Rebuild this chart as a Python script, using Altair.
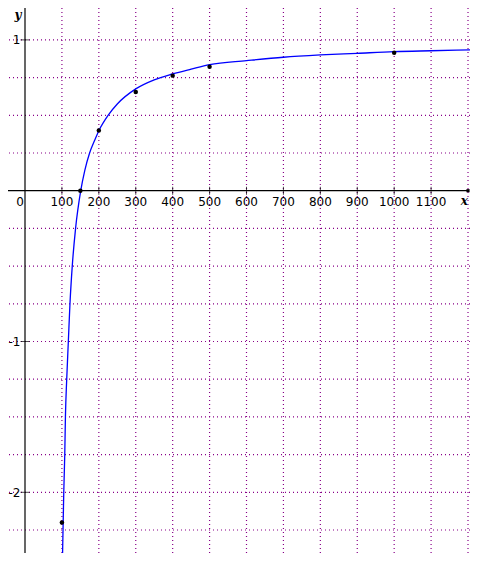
import altair as alt
import pandas as pd

# ---- data ----
curve_x = [101.0, 103, 105, 107.7, 109.5, 113, 117.4, 121.8, 128, 137, 151, 162, 175, 189, 200,
           225, 250, 300, 350, 400, 450, 500, 600, 700, 800, 900, 1000, 1100, 1212]
curve_y = [-2.50, -2.25, -2.0, -1.75, -1.5, -1.25, -1.0, -0.75, -0.5, -0.25, 0.0, 0.135, 0.25, 0.336, 0.398,
           0.50, 0.575, 0.675, 0.735, 0.774, 0.806, 0.836, 0.862, 0.885, 0.900, 0.911, 0.922, 0.928, 0.934]

pts_x = [100, 150, 200, 300, 400, 500, 1000]
pts_y = [-2.2, 0.0, 0.4, 0.655, 0.763, 0.822, 0.915]

grid_x = [100, 200, 300, 400, 500, 600, 700, 800, 900, 1000, 1100, 1200]
grid_y = [-2.25, -2.0, -1.75, -1.5, -1.25, -1.0, -0.75, -0.5, -0.25, 0.25, 0.5, 0.75, 1.0]

xtick_vals = [100, 200, 300, 400, 500, 600, 700, 800, 900, 1000, 1100]
xtick_labels = ["100", "200", "300", "400", "500", "600", "700", "800", "900", "1000", "1100"]
ytick_vals = [1, -1, -2]
ytick_labels = ["1", "-1", "-2"]

X_DOMAIN = [-46.05, 1205.4]
Y_DOMAIN = [-2.4025, 1.2115]
AXIS_END_X = 1200

xs = alt.Scale(domain=X_DOMAIN, nice=False, zero=False)
ys = alt.Scale(domain=Y_DOMAIN, nice=False, zero=False)

GRID_COLOR = "#880088"
FONT = "DejaVu Sans"


def X(field="x"):
    return alt.X(f"{field}:Q", scale=xs, axis=None)


def Y(field="y"):
    return alt.Y(f"{field}:Q", scale=ys, axis=None)


vgrid = alt.Chart(pd.DataFrame({"x": grid_x})).mark_rule(
    color=GRID_COLOR, strokeWidth=1.2, strokeDash=[1, 3]
).encode(x=X())

hgrid = alt.Chart(pd.DataFrame({"y": grid_y})).mark_rule(
    color=GRID_COLOR, strokeWidth=1.2, strokeDash=[1, 3]
).encode(y=Y())

xaxis = alt.Chart(pd.DataFrame({"x": [X_DOMAIN[0]], "x2": [AXIS_END_X], "y": [0]})).mark_rule(
    color="black", strokeWidth=1.2
).encode(x=X(), x2="x2:Q", y=Y())

yaxis = alt.Chart(pd.DataFrame({"x": [0], "y": [Y_DOMAIN[0]], "y2": [Y_DOMAIN[1]]})).mark_rule(
    color="black", strokeWidth=1.2
).encode(x=X(), y=Y(), y2="y2:Q")

arrow = alt.Chart(pd.DataFrame({"x": [AXIS_END_X], "y": [0]})).mark_square(
    color="black", size=10, opacity=1
).encode(x=X(), y=Y())

xticks = alt.Chart(pd.DataFrame({"x": xtick_vals, "y": [0] * len(xtick_vals)})).mark_tick(
    orient="vertical", size=8, thickness=1, color="black"
).encode(x=X(), y=Y())

yticks = alt.Chart(pd.DataFrame({"x": [0] * len(ytick_vals), "y": ytick_vals})).mark_tick(
    orient="horizontal", size=9, thickness=1, color="black"
).encode(x=X(), y=Y())

xlabels = alt.Chart(pd.DataFrame({"x": xtick_vals, "y": [0] * len(xtick_vals), "t": xtick_labels})).mark_text(
    font=FONT, fontSize=12, align="center", baseline="alphabetic", dy=15, color="black"
).encode(x=X(), y=Y(), text="t:N")

zero_label = alt.Chart(pd.DataFrame({"x": [0], "y": [0], "t": ["0"]})).mark_text(
    font=FONT, fontSize=12, align="right", baseline="alphabetic", dx=-1, dy=15, color="black"
).encode(x=X(), y=Y(), text="t:N")

ylabels = alt.Chart(pd.DataFrame({"x": [0] * len(ytick_vals), "y": ytick_vals, "t": ytick_labels})).mark_text(
    font=FONT, fontSize=12, align="right", baseline="alphabetic", dx=-4.5, dy=4.5, color="black"
).encode(x=X(), y=Y(), text="t:N")

xname = alt.Chart(pd.DataFrame({"x": [1190], "y": [0], "t": ["x"]})).mark_text(
    font="DejaVu Serif", fontSize=12, fontStyle="italic", fontWeight="bold",
    align="center", baseline="alphabetic", dy=14, color="black"
).encode(x=X(), y=Y(), text="t:N")

yname = alt.Chart(pd.DataFrame({"x": [-19], "y": [1.1385], "t": ["y"]})).mark_text(
    font="DejaVu Serif", fontSize=12, fontStyle="italic", fontWeight="bold",
    align="center", baseline="alphabetic", color="black"
).encode(x=X(), y=Y(), text="t:N")

curve = alt.Chart(pd.DataFrame({"x": curve_x, "y": curve_y})).mark_line(
    color="#0000ff", strokeWidth=1.3, interpolate="monotone", clip=True
).encode(x=X(), y=Y())

points = alt.Chart(pd.DataFrame({"x": pts_x, "y": pts_y})).mark_circle(
    color="black", size=20, opacity=1
).encode(x=X(), y=Y())

chart = alt.layer(
    vgrid, hgrid, xaxis, yaxis, arrow, xticks, yticks,
    xlabels, zero_label, ylabels, xname, yname, curve, points
).properties(
    width=462, height=545, padding=0,
    autosize=alt.AutoSizeParams(type="none"),
    background="white"
).configure_view(stroke=None)

chart.save("out.html", embed_options={"renderer": "svg", "actions": False})
